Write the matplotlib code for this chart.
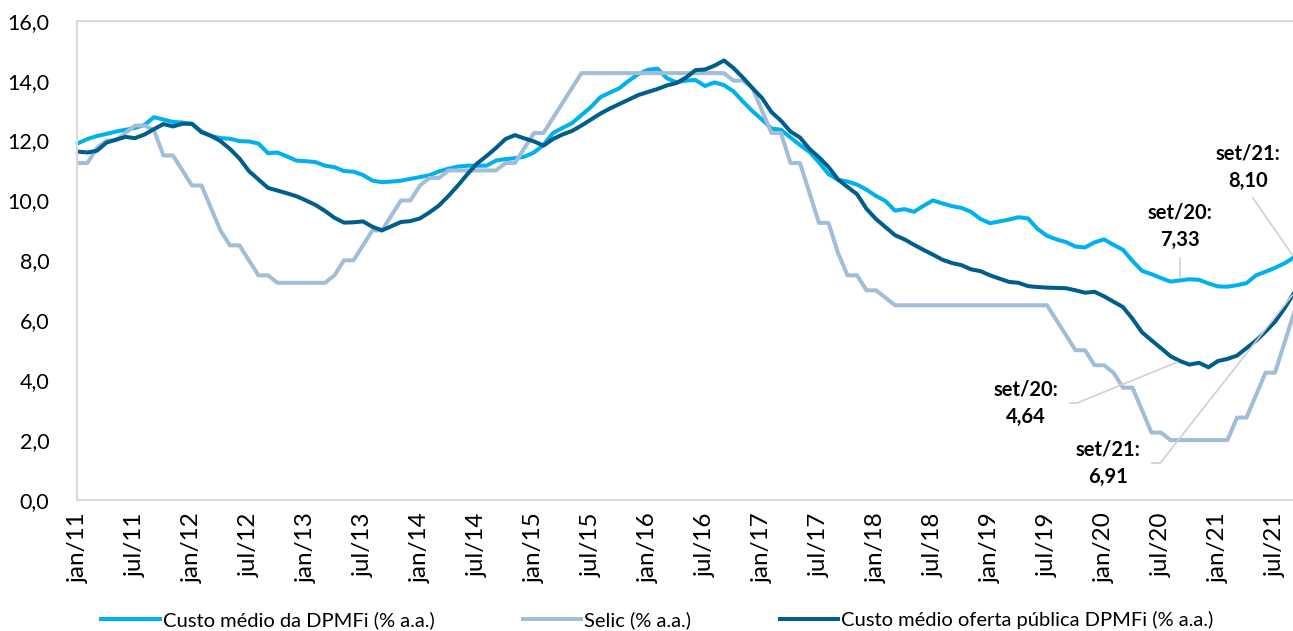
import math
import numpy as np
from matplotlib import pyplot as plt

plt.rcParams['font.family'] = ['Lato', 'DejaVu Sans']

# meses de jan/11 a set/21
lstMeses = ['jan', 'fev', 'mar', 'abr', 'mai', 'jun', 'jul', 'ago', 'set', 'out', 'nov', 'dez']
lstAnos = list(range(11, 22))
lstRotulos = [f'{m}/{a}' for a in lstAnos for m in lstMeses][:129]

arrCustoMedio = np.array([
    11.91, 12.05, 12.15, 12.22, 12.30, 12.36, 12.42, 12.52, 12.78, 12.70, 12.62, 12.60,
    12.55, 12.30, 12.15, 12.08, 12.06, 11.98, 11.97, 11.90, 11.58, 11.60, 11.47, 11.33,
    11.31, 11.28, 11.16, 11.11, 10.98, 10.96, 10.85, 10.66, 10.61, 10.63, 10.66, 10.72,
    10.78, 10.84, 10.97, 11.06, 11.13, 11.16, 11.16, 11.16, 11.33, 11.38, 11.41, 11.46,
    11.60, 11.85, 12.25, 12.42, 12.58, 12.85, 13.12, 13.45, 13.60, 13.75, 14.00, 14.22,
    14.36, 14.40, 14.08, 13.94, 14.00, 14.02, 13.82, 13.94, 13.85, 13.64, 13.30, 12.98,
    12.70, 12.40, 12.36, 12.10, 11.85, 11.62, 11.27, 10.88, 10.69, 10.63, 10.53, 10.36,
    10.15, 9.98, 9.66, 9.71, 9.62, 9.82, 10.00, 9.90, 9.81, 9.75, 9.62, 9.38,
    9.24, 9.30, 9.36, 9.44, 9.40, 9.05, 8.82, 8.70, 8.61, 8.46, 8.43, 8.60,
    8.70, 8.52, 8.35, 7.98, 7.65, 7.54, 7.41, 7.29, 7.33, 7.37, 7.35, 7.23,
    7.13, 7.12, 7.17, 7.24, 7.50, 7.62, 7.75, 7.90, 8.10,
])

arrSelic = np.array([
    11.25, 11.25, 11.75, 12.00, 12.00, 12.25, 12.50, 12.50, 12.35, 11.50, 11.50, 11.00,
    10.50, 10.50, 9.75, 9.00, 8.50, 8.50, 8.00, 7.50, 7.50, 7.25, 7.25, 7.25,
    7.25, 7.25, 7.25, 7.50, 8.00, 8.00, 8.50, 9.00, 9.00, 9.50, 10.00, 10.00,
    10.50, 10.75, 10.75, 11.00, 11.00, 11.00, 11.00, 11.00, 11.00, 11.25, 11.25, 11.75,
    12.25, 12.25, 12.75, 13.25, 13.75, 14.25, 14.25, 14.25, 14.25, 14.25, 14.25, 14.25,
    14.25, 14.25, 14.25, 14.25, 14.25, 14.25, 14.25, 14.25, 14.25, 14.00, 14.00, 13.75,
    13.00, 12.25, 12.25, 11.25, 11.25, 10.25, 9.25, 9.25, 8.25, 7.50, 7.50, 7.00,
    7.00, 6.75, 6.50, 6.50, 6.50, 6.50, 6.50, 6.50, 6.50, 6.50, 6.50, 6.50,
    6.50, 6.50, 6.50, 6.50, 6.50, 6.50, 6.50, 6.00, 5.50, 5.00, 5.00, 4.50,
    4.50, 4.25, 3.75, 3.75, 3.00, 2.25, 2.25, 2.00, 2.00, 2.00, 2.00, 2.00,
    2.00, 2.00, 2.75, 2.75, 3.50, 4.25, 4.25, 5.25, 6.25,
])

arrOferta = np.array([
    11.63, 11.60, 11.66, 11.93, 12.03, 12.12, 12.08, 12.20, 12.38, 12.55, 12.47, 12.56,
    12.56, 12.28, 12.16, 11.98, 11.72, 11.40, 10.98, 10.70, 10.42, 10.33, 10.24, 10.14,
    10.00, 9.85, 9.65, 9.42, 9.26, 9.27, 9.30, 9.12, 9.00, 9.14, 9.28, 9.31,
    9.40, 9.60, 9.83, 10.15, 10.50, 10.88, 11.23, 11.48, 11.75, 12.05, 12.18, 12.07,
    11.97, 11.83, 12.05, 12.20, 12.32, 12.50, 12.70, 12.90, 13.07, 13.22, 13.37, 13.52,
    13.62, 13.72, 13.84, 13.92, 14.10, 14.35, 14.37, 14.50, 14.67, 14.42, 14.10, 13.75,
    13.42, 12.95, 12.66, 12.30, 12.10, 11.72, 11.44, 11.12, 10.70, 10.45, 10.21, 9.72,
    9.38, 9.11, 8.84, 8.70, 8.52, 8.35, 8.19, 8.02, 7.91, 7.84, 7.70, 7.64,
    7.50, 7.39, 7.28, 7.25, 7.14, 7.11, 7.09, 7.08, 7.07, 7.00, 6.92, 6.95,
    6.80, 6.62, 6.44, 6.05, 5.60, 5.33, 5.07, 4.80, 4.64, 4.52, 4.58, 4.43,
    4.64, 4.71, 4.82, 5.07, 5.32, 5.62, 5.95, 6.40, 6.91,
])

lstSeries = [
    ('Custo médio da DPMFi (% a.a.)', arrCustoMedio, '#00B0F0'),
    ('Selic (% a.a.)', arrSelic, '#A2BDD8'),
    ('Custo médio oferta pública DPMFi (% a.a.)', arrOferta, '#005E8A'),
]

# rotulos de destaque: (serie, mes, deslocamento do texto em px, trecho horizontal)
lstDestaques = [
    (arrCustoMedio, 'set/21', (-46, 90), None),
    (arrCustoMedio, 'set/20', (0, 54), None),
    (arrOferta, 'set/20', (-154, -42), 11),
    (arrOferta, 'set/21', (-186, -170), 12),
]

nW, nH = 1293, 631
fig = plt.figure(figsize=(nW / 100, nH / 100), dpi=100)
ax = fig.add_axes([77 / nW, 1 - 500 / nH, (1294 - 77) / nW, (500 - 20.7) / nH])

arrX = np.arange(len(lstRotulos))
for cNome, arrVal, cCor in lstSeries:
    ax.plot(arrX, arrVal, color=cCor, lw=2.9, label=cNome, solid_joinstyle='round', clip_on=False)

ax.set_xlim(-0.1, len(lstRotulos) - 1)
ax.set_ylim(0, 16)
ax.set_yticks(np.arange(0, 17, 2))
ax.set_yticklabels([f'{v:.1f}'.replace('.', ',') for v in np.arange(0, 17, 2)], fontsize=15.5)
ax.set_xticks(arrX[::6])
ax.set_xticklabels(lstRotulos[::6], rotation=90, fontsize=17.5)
ax.tick_params(length=0, colors='#000000')
ax.tick_params(axis='x', pad=9)
ax.tick_params(axis='y', pad=20)

for cLado in ['top', 'left', 'bottom']:
    ax.spines[cLado].set_color('#D9D9D9')
    ax.spines[cLado].set_linewidth(1.5)
ax.spines['right'].set_visible(False)

for arrVal, cMes, (dx, dy), nKink in lstDestaques:
    i = lstRotulos.index(cMes)
    cTexto = f'{cMes}:\n' + f'{arrVal[i]:.2f}'.replace('.', ',')
    dArrow = dict(arrowstyle='-', color='#D0D0D0', lw=1.2, shrinkB=2, patchA=None)
    if nKink is None:
        # linha saindo de baixo do texto
        dArrow['relpos'] = (0.5, 0.0)
        dArrow['shrinkA'] = 6
    else:
        # linha com pequeno trecho horizontal saindo do texto
        fAng = math.degrees(math.atan2(-dy, -dx - 40 - nKink))
        dArrow['connectionstyle'] = f'angle,angleA=0,angleB={fAng:.1f},rad=0'
        dArrow['relpos'] = (1.0, 0.5)
        dArrow['shrinkA'] = 8
    ax.annotate(cTexto, xy=(i, arrVal[i]), xytext=(dx, dy), textcoords='offset pixels',
                ha='center', va='center', fontsize=14.5, fontweight='bold',
                linespacing=1.45, arrowprops=dArrow, annotation_clip=False)

fig.legend(loc='center', bbox_to_anchor=(0.5085, 0.0175), ncol=3, frameon=False,
           fontsize=14.5, handlelength=2.9, handletextpad=0.15, columnspacing=4.4)

plt.savefig('out.png', dpi=100)
plt.close()
